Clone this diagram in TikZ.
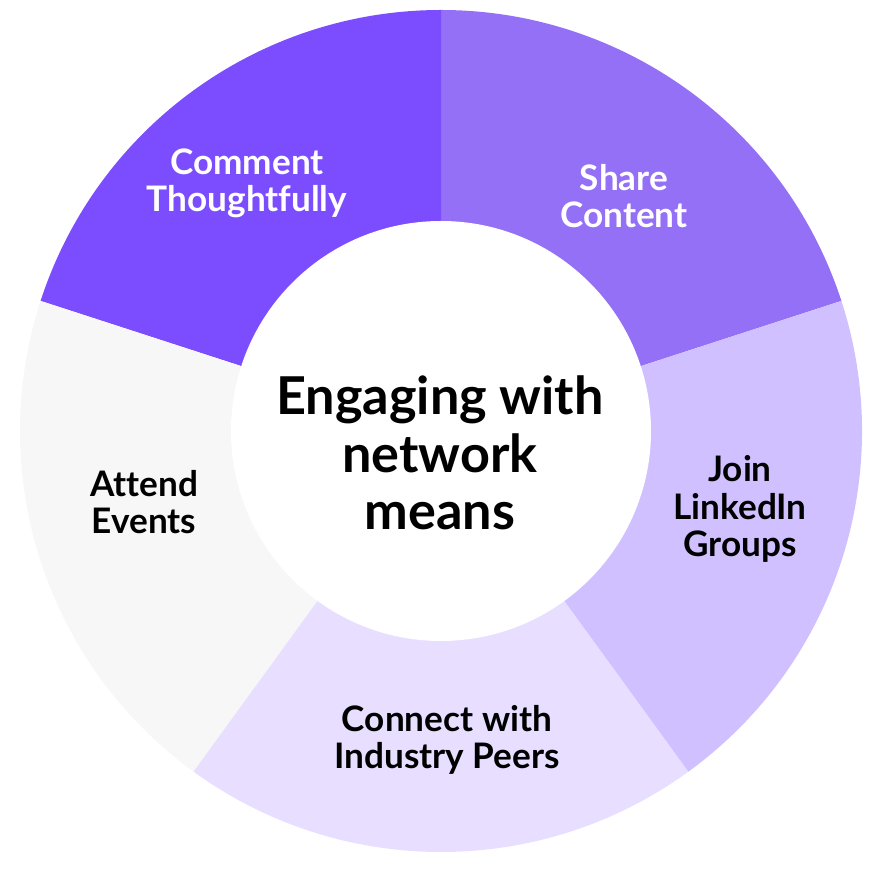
\documentclass[tikz,border=0pt]{standalone}
\usepackage{fontspec}
\setmainfont{Lato}[Ligatures=NoCommon]
\usetikzlibrary{positioning}
\definecolor{segComment}{RGB}{124,77,255}
\definecolor{segShare}{RGB}{147,112,245}
\definecolor{segJoin}{RGB}{208,192,255}
\definecolor{segConnect}{RGB}{232,222,255}
\definecolor{segAttend}{RGB}{247,247,247}
\begin{document}
\begin{tikzpicture}[
    seglabel/.style={align=center, font=\fontsize{20}{21.2}\selectfont\bfseries},
    hub/.style={align=center, font=\fontsize{29.7}{32.6}\selectfont\bfseries}
]
\useasboundingbox (-8.82,-8.88) rectangle (8.82,8.62);
\coordinate (c) at (0,0);
% ring segments
\fill[segShare] (c) -- (18:8.42) arc[start angle=18, end angle=90, radius=8.42] -- cycle;
\fill[segComment] (c) -- (90:8.42) arc[start angle=90, end angle=162, radius=8.42] -- cycle;
\fill[segAttend] (c) -- (162:8.42) arc[start angle=162, end angle=234, radius=8.42] -- cycle;
\fill[segConnect] (c) -- (234:8.42) arc[start angle=234, end angle=306, radius=8.42] -- cycle;
\fill[segJoin] (c) -- (306:8.42) arc[start angle=306, end angle=378, radius=8.42] -- cycle;
\fill[white] (c) circle (4.2);
% labels
\node[hub] (hub) at (-0.02,-0.44) {Engaging with\\network\\means};
\node[seglabel, white] (comment) at (-3.88,4.96) {Comment\\Thoughtfully};
\node[seglabel, white] (share) at (3.66,4.70) {Share\\Content};
\node[seglabel] (join) at (5.98,-1.56) {Join\\LinkedIn\\Groups};
\node[seglabel] (connect) at (0.12,-6.18) {Connect with\\Industry Peers};
\node[seglabel] (attend) at (-5.94,-1.42) {Attend\\Events};
\end{tikzpicture}
\end{document}
